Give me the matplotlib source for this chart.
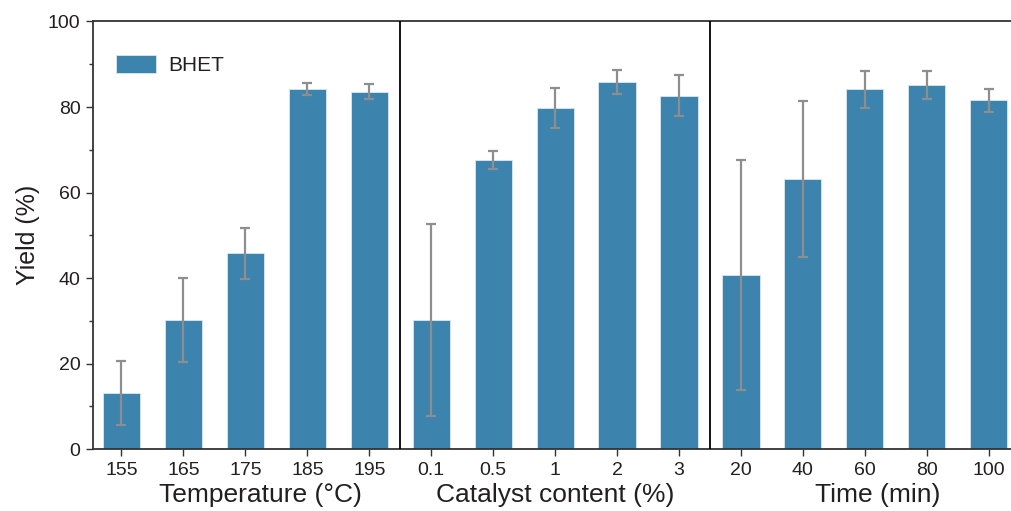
import matplotlib.pyplot as plt
import numpy as np

plt.rcParams['font.family'] = ['Liberation Sans', 'DejaVu Sans']

# three parameter sweeps, each with five levels
temp_labels = ['155', '165', '175', '185', '195']
temp_yield = [13.2, 30.1, 45.8, 84.2, 83.6]
temp_err = [7.5, 9.8, 6.0, 1.3, 1.7]

cat_labels = ['0.1', '0.5', '1', '2', '3']
cat_yield = [30.2, 67.7, 79.7, 85.8, 82.6]
cat_err = [22.4, 2.1, 4.7, 2.8, 4.8]

time_labels = ['20', '40', '60', '80', '100']
time_yield = [40.8, 63.2, 84.1, 85.1, 81.6]
time_err = [26.9, 18.3, 4.4, 3.3, 2.7]

group_titles = ['Temperature (°C)', 'Catalyst content (%)', 'Time (min)']

bar_color = '#3c83ae'
err_color = '#8e8e8e'
text_color = '#231f20'
spine_color = '#333333'

labels = temp_labels + cat_labels + time_labels
yields = temp_yield + cat_yield + time_yield
errs = temp_err + cat_err + time_err
x = np.arange(len(labels))

fig = plt.figure(figsize=(10.11, 5.11), dpi=100)
ax = fig.add_axes([93 / 1011, 1 - 449 / 511, (1011 - 93) / 1011, (449 - 21.5) / 511])

ax.bar(x, yields, width=0.6, color=bar_color, edgecolor='#dbe8f0', linewidth=0.6,
       label='BHET', zorder=2)
ax.errorbar(x, yields, yerr=errs, fmt='none', ecolor=err_color, elinewidth=1.6,
            capsize=3.5, capthick=1.6, zorder=3)

# group separators
for xs in (4.5, 9.5):
    ax.axvline(xs, color='black', linewidth=1.3, zorder=4)

ax.set_xlim(-0.46, 14.36)
ax.set_ylim(0, 100)
ax.set_xticks(x)
ax.set_xticklabels(labels)
ax.set_yticks(np.arange(0, 101, 20))
ax.set_yticks(np.arange(10, 100, 20), minor=True)

ax.tick_params(axis='both', which='major', direction='out', length=5, width=1.0,
               color=spine_color, labelsize=14, labelcolor=text_color, pad=4)
ax.tick_params(axis='y', which='minor', direction='out', length=3, width=1.0,
               color=spine_color)

for side in ('left', 'bottom', 'top'):
    ax.spines[side].set_color(spine_color)
    ax.spines[side].set_linewidth(1.3)
ax.spines['right'].set_visible(False)

ax.set_ylabel('Yield (%)', fontsize=18, color=text_color, labelpad=6)

# group titles under each block of ticks
for xc, title in zip((2.25, 7.0, 12.2), group_titles):
    ax.text(xc, -0.108, title, transform=ax.get_xaxis_transform(),
            ha='center', va='center', fontsize=19, color=text_color)

leg = ax.legend(loc='upper left', bbox_to_anchor=(0.005, 0.965), frameon=False,
                fontsize=15, handlelength=1.9, handleheight=0.95, handletextpad=0.6,
                labelcolor=text_color)

fig.savefig('out.png', dpi=100)
